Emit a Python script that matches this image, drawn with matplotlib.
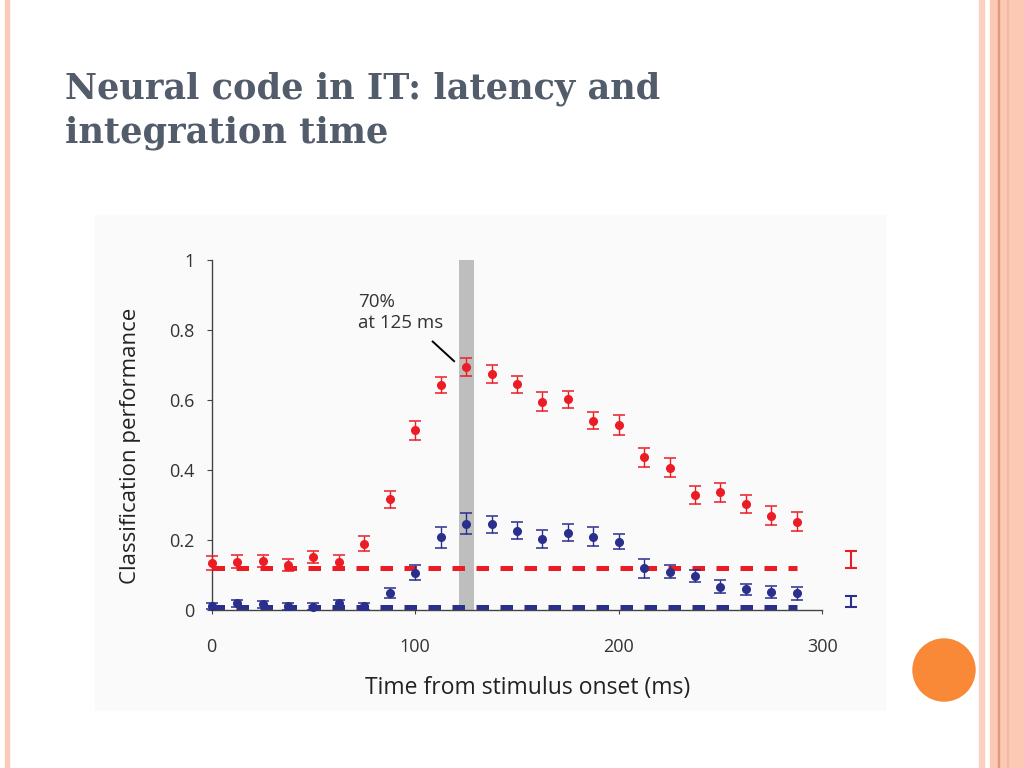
import matplotlib
matplotlib.use('Agg')
import matplotlib.pyplot as plt
from matplotlib.patches import Rectangle, Ellipse

# time bins (ms) and classification performance
times = [0, 12.5, 25, 37.5, 50, 62.5, 75, 87.5, 100, 112.5, 125, 137.5,
         150, 162.5, 175, 187.5, 200, 212.5, 225, 237.5, 250, 262.5, 275, 287.5]

red_perf = [0.133, 0.138, 0.140, 0.129, 0.152, 0.138, 0.190, 0.316, 0.514, 0.643, 0.695, 0.674,
            0.645, 0.595, 0.602, 0.541, 0.529, 0.436, 0.407, 0.329, 0.336, 0.303, 0.270, 0.252]
red_err = [0.020, 0.019, 0.018, 0.018, 0.018, 0.020, 0.021, 0.024, 0.027, 0.024, 0.025, 0.026,
           0.024, 0.027, 0.024, 0.024, 0.029, 0.027, 0.028, 0.025, 0.028, 0.025, 0.027, 0.027]

blue_perf = [0.011, 0.019, 0.017, 0.011, 0.010, 0.019, 0.011, 0.048, 0.107, 0.208, 0.246, 0.245,
             0.227, 0.203, 0.221, 0.210, 0.195, 0.119, 0.110, 0.097, 0.067, 0.059, 0.052, 0.048]
blue_err = [0.008, 0.010, 0.010, 0.010, 0.010, 0.010, 0.010, 0.014, 0.021, 0.030, 0.030, 0.024,
            0.024, 0.027, 0.024, 0.027, 0.021, 0.027, 0.018, 0.018, 0.018, 0.016, 0.018, 0.019]

# chance levels and the extra error bars at the right
red_chance = 0.12
blue_chance = 0.008
extra_time = 314
red_extra, red_extra_err = 0.144, 0.025
blue_extra, blue_extra_err = 0.024, 0.016

peak_bin = (121.5, 129)

RED = '#ec1c24'
BLUE = '#2b2f8c'
TEXT = '#333333'

fig = plt.figure(figsize=(10.24, 7.68), dpi=100)
fig.patch.set_facecolor('white')

# slide decoration
fig.patches.append(Rectangle((5/1024, 0), 4/1024, 1, transform=fig.transFigure,
                             color='#fbcab8', zorder=-2))
fig.patches.append(Rectangle((979/1024, 0), 5/1024, 1, transform=fig.transFigure,
                             color='#fcd0c0', zorder=-2))
fig.patches.append(Rectangle((990/1024, 0), 34/1024, 1, transform=fig.transFigure,
                             color='#fcc9b5', zorder=-2))
fig.patches.append(Rectangle((997.5/1024, 0), 1.5/1024, 1, transform=fig.transFigure,
                             color='#e39a7c', zorder=-1))
fig.patches.append(Rectangle((1007/1024, 0), 1/1024, 1, transform=fig.transFigure,
                             color='#f6b9a3', zorder=-1))
fig.patches.append(Ellipse((944/1024, 1 - 670/768), 62/1024, 62/768,
                           transform=fig.transFigure, color='#f98837', zorder=-1))
# light panel behind the chart
fig.patches.append(Rectangle((95/1024, 1 - 710/768), 790/1024, 495/768,
                             transform=fig.transFigure, color='#fafafa', zorder=-2))

fig.text(65/1024, 1 - 99/768, 'Neural code in IT: latency and', fontsize=25.3,
         family='DejaVu Serif', weight='bold', color='#525c6a', va='baseline')
fig.text(65/1024, 1 - 143/768, 'integration time', fontsize=25.3,
         family='DejaVu Serif', weight='bold', color='#525c6a', va='baseline')

ax = fig.add_axes([211.7/1024, 1 - 610/768, 610.5/1024, 350/768])
ax.set_facecolor('none')
ax.set_xlim(0, 300)
ax.set_ylim(0, 1)

ax.axvspan(peak_bin[0], peak_bin[1], color='#bebebe', lw=0, zorder=1)

ax.hlines(red_chance, times[0], times[-1], colors=RED, lw=3.6,
          linestyles=(0, (2.5, 2.3)), zorder=2)
ax.hlines(blue_chance, times[0], times[-1], colors=BLUE, lw=3.6,
          linestyles=(0, (2.5, 2.3)), zorder=2, clip_on=False)

for perf, err, col in [(red_perf, red_err, RED), (blue_perf, blue_err, BLUE)]:
    eb = ax.errorbar(times, perf, yerr=err, fmt='o', color=col, ms=5.5,
                     elinewidth=1.0, capsize=4.5, capthick=1.1, zorder=3)
    for art in eb.lines[0:1] + tuple(eb.lines[1]) + tuple(eb.lines[2]):
        art.set_clip_on(False)

for val, err, col in [(red_extra, red_extra_err, RED), (blue_extra, blue_extra_err, BLUE)]:
    eb = ax.errorbar([extra_time], [val], yerr=[err], fmt='none', ecolor=col,
                     elinewidth=1.5, capsize=4.5, capthick=1.5, zorder=3)
    for art in tuple(eb.lines[1]) + tuple(eb.lines[2]):
        art.set_clip_on(False)

ax.text(72, 0.905, '70%\nat 125 ms', fontsize=13.5, family='Open Sans',
        color=TEXT, va='top', ha='left', linespacing=1.2)
ax.plot([108.6, 119.1], [0.767, 0.711], color='black', lw=1.4, zorder=3)

for s in ['top', 'right']:
    ax.spines[s].set_visible(False)
for s in ['left', 'bottom']:
    ax.spines[s].set_color('#444444')
    ax.spines[s].set_linewidth(1.0)

ax.set_xticks([0, 100, 200, 300])
ax.set_xticklabels(['0', '100', '200', '300'])
ax.set_yticks([0, 0.2, 0.4, 0.6, 0.8, 1])
ax.set_yticklabels(['0', '0.2', '0.4', '0.6', '0.8', '1'])
ax.tick_params(axis='y', length=3.5, width=0.8, pad=9, labelsize=13,
               colors='#444444', labelcolor=TEXT)
ax.tick_params(axis='x', length=3, width=0.8, pad=17, labelsize=13,
               colors='#444444', labelcolor=TEXT)
for lab in ax.get_xticklabels() + ax.get_yticklabels():
    lab.set_family('Open Sans')

ax.set_xlabel('Time from stimulus onset (ms)', fontsize=16.5, family='Open Sans',
              color='#222222')
ax.set_ylabel('Classification performance', fontsize=16, family='Open Sans',
              color='#222222')
ax.xaxis.set_label_coords(0.518, -0.19)
ax.yaxis.set_label_coords(-0.115, 0.47)

fig.savefig('out.png', dpi=100)
